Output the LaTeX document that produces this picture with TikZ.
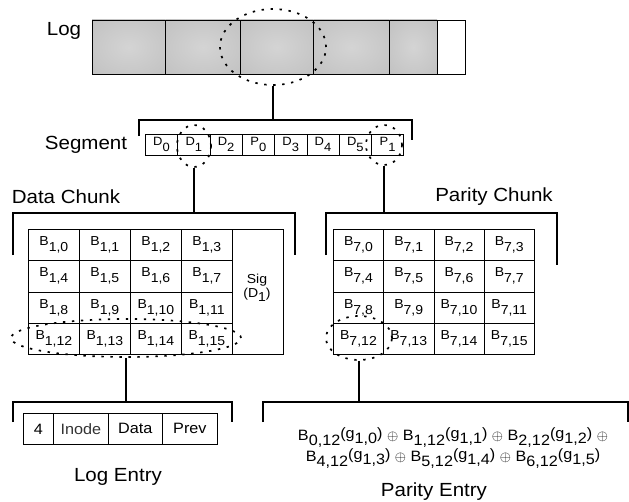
\documentclass[tikz,border=0pt]{standalone}
\usepackage{fontspec}
\setmainfont{Liberation Sans}[FakeStretch=1.08]
\usetikzlibrary{shapes.geometric}
\definecolor{shIn}{RGB}{212,212,212}
\definecolor{shMid}{RGB}{186,186,186}
\definecolor{shOut}{RGB}{170,170,170}
\pgfdeclareradialshading{logsh}{\pgfpoint{0bp}{0bp}}{color(0bp)=(shIn); color(50bp)=(shMid); color(72bp)=(shOut)}
\newcommand\Bs[2]{\raisebox{0.24em}{#1}\raisebox{-0.24em}{#2}}
\newcommand\Pt[2]{B\raisebox{-0.38em}{#1}\raisebox{0.12em}{(g}\raisebox{-0.2em}{#2}\raisebox{0.12em}{)}}
\begin{document}
\begin{tikzpicture}[x=1pt,y=-1pt,
  cell/.style={draw, line width=0.7pt, inner sep=0pt, anchor=north west},
  logshade/.style={shade, shading=logsh},
  bracket/.style={line width=1.6pt},
  conn/.style={line width=1.6pt},
  dotell/.style={draw, ellipse, dash pattern=on 2.4pt off 6.6pt, line width=1.7pt, inner sep=0pt},
  lab/.style={font=\fontsize{19}{22}\selectfont, inner sep=0pt},
  bfont/.style={font=\fontsize{13}{15}\selectfont},
  sfont/.style={font=\fontsize{12}{14}\selectfont},
  efont/.style={font=\fontsize{15}{17}\selectfont},
]
\useasboundingbox (0,0) rectangle (629,501);

% ---- Log ----
\node[lab] (loglab) at (64,31) {Log};
\foreach \n/\xa/\w in {1/91.7/73.3, 2/165/75, 3/240/73, 4/313/76, 5/389/47.7}
  \node[cell, logshade, minimum width=\w pt, minimum height=54.5pt] (log\n) at (\xa,19.5) {};
\node[cell, fill=white, minimum width=28.3pt, minimum height=54.5pt] (log6) at (436.7,19.5) {};
\node[dotell, minimum width=106pt, minimum height=76pt] (e1) at (273,47) {};

% ---- Segment ----
\coordinate (sbl) at (139,120);
\coordinate (sbr) at (412,120);
\draw[bracket] ([yshift=-16pt]sbl) -- (sbl) -- (sbr) -- ([yshift=-20pt]sbr);
\draw[conn] (e1.south) -- (e1.south |- sbl);
\node[lab] (seglab) at (86,145) {Segment};
\foreach \i/\l/\s in {0/D/0,1/D/1,2/D/2,3/P/0,4/D/3,5/D/4,6/D/5,7/P/1}
  \node[cell, sfont, minimum width=32.3pt, minimum height=21pt] (s\i) at ({145+32.3*\i},133.5) {\Bs{\l}{\s}};
\node[dotell, minimum width=34pt, minimum height=42pt] (e2) at (194,146) {};
\node[dotell, minimum width=36pt, minimum height=40pt] (e3) at (384,145) {};

% ---- Chunks ----
\node[lab] (dclab) at (66,197) {Data Chunk};
\node[lab] (pclab) at (494,197) {Parity Chunk};
\coordinate (dbl) at (13,213);
\coordinate (dbr) at (295,213);
\coordinate (pbl) at (326,213);
\coordinate (pbr) at (557,213);
\draw[bracket] ([yshift=-42pt]dbl) -- (dbl) -- (dbr) -- ([yshift=-42pt]dbr);
\draw[bracket] ([yshift=-42pt]pbl) -- (pbl) -- (pbr) -- ([yshift=-52pt]pbr);
\draw[conn] (e2.south) -- (e2.south |- dbl);
\draw[conn] (e3.south) -- (e3.south |- pbl);

\foreach \r in {0,...,3}
  \foreach \c in {0,...,3} {
    \pgfmathtruncatemacro\k{4*\r+\c}
    \node[cell, bfont, minimum width=51pt, minimum height=31.25pt] (d\k) at ({28+51*\c},{229+31.25*\r}) {\Bs{B}{1,\k}};
    \node[cell, bfont, minimum width=50.25pt, minimum height=31.25pt] (p\k) at ({333+50.25*\c},{229+31.25*\r}) {\Bs{B}{7,\k}};
  }
\node[cell, minimum width=51pt, minimum height=125pt] (sig) at (232,229) {};
\node[bfont, align=center, inner sep=0pt] (sigt) at (257,288) {Sig\\[-1pt](D\raisebox{-0.3em}{1})};

\node[dotell, minimum width=230pt, minimum height=38pt] (e4) at (126,338) {};
\node[dotell, minimum width=66pt, minimum height=44pt] (e5) at (359,338) {};

% ---- Log entry ----
\coordinate (lbl) at (13,402);
\coordinate (lbr) at (232,402);
\draw[bracket] ([yshift=-20pt]lbl) -- (lbl) -- (lbr) -- ([yshift=-20pt]lbr);
\draw[conn] (e4.south) -- (e4.south |- lbl);
\node[cell, efont, minimum width=30pt, minimum height=31pt] (le1) at (23,413) {4};
\node[cell, efont, minimum width=55pt, minimum height=31pt, text=black!80] (le2) at (53,413) {Inode};
\node[cell, efont, minimum width=54pt, minimum height=31pt] (le3) at (108,413) {Data};
\node[cell, efont, minimum width=55pt, minimum height=31pt] (le4) at (162,413) {Prev};
\node[lab] (lelab) at (118,477) {Log Entry};

% ---- Parity entry ----
\coordinate (qbl) at (263,402);
\coordinate (qbr) at (628,402);
\draw[bracket] ([yshift=-20pt]qbl) -- (qbl) -- (qbr) -- ([yshift=-20pt]qbr);
\draw[conn] (e5.south) -- (e5.south |- qbl);
\node[font=\fontsize{15}{21}\selectfont, align=center, inner sep=0pt] (pe) at (453,448)
  {\Pt{0,12}{1,0} $\oplus$ \Pt{1,12}{1,1} $\oplus$ \Pt{2,12}{1,2} $\oplus$\\
   \Pt{4,12}{1,3} $\oplus$ \Pt{5,12}{1,4} $\oplus$ \Pt{6,12}{1,5}};
\node[lab] (pelab) at (434,492) {Parity Entry};
\end{tikzpicture}
\end{document}
